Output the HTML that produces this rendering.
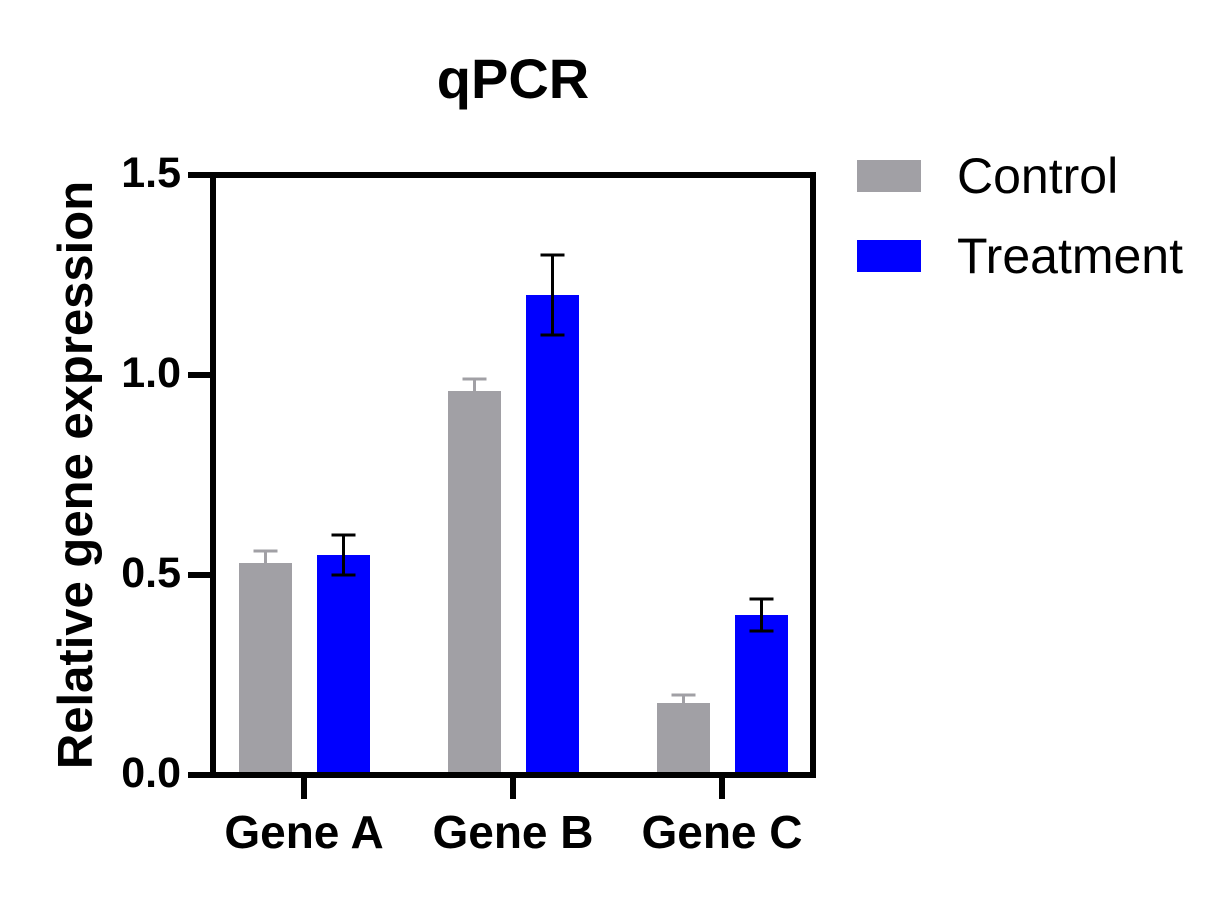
<!DOCTYPE html>
<html><head><style>body{margin:0;background:#fff}</style></head><body>
<svg width="1227" height="896" xmlns="http://www.w3.org/2000/svg" font-family="Liberation Sans, Arial, sans-serif">
<text x="513" y="98" font-size="56" font-weight="bold" text-anchor="middle">qPCR</text>
<text transform="translate(92,475) rotate(-90)" font-size="49" font-weight="bold" text-anchor="middle">Relative gene expression</text>
<g fill="#a1a0a5">
<rect x="239" y="563" width="53" height="212"/>
<rect x="448" y="391" width="53" height="384"/>
<rect x="657" y="703" width="53" height="72"/>
</g>
<g fill="#0000ff">
<rect x="317" y="555" width="53" height="220"/>
<rect x="526" y="295" width="53" height="480"/>
<rect x="735" y="615" width="53" height="160"/>
</g>
<g stroke="#a1a0a5" stroke-width="3">
<path d="M265.5 563V551M253.5 551H277.5M474.5 391V379M462.5 379H486.5M683.5 703V695M671.5 695H695.5"/>
</g>
<g stroke="#000" stroke-width="3">
<path d="M343.5 535V575M331.5 535H355.5M331.5 575H355.5M552.5 255V335M540.5 255H564.5M540.5 335H564.5M761.5 599V631M749.5 599H773.5M749.5 631H773.5"/>
</g>
<g stroke="#000" stroke-width="6" fill="none">
<path d="M188 175H813V775M213 175V775M188 775H816M188 375H213M188 575H213M304 775V799M513 775V799M722 775V799"/>
</g>
<g font-size="43" font-weight="bold" text-anchor="end">
<text x="181" y="187">1.5</text><text x="181" y="387">1.0</text><text x="181" y="587">0.5</text><text x="181" y="787">0.0</text>
</g>
<g font-size="46" font-weight="bold" text-anchor="middle">
<text x="304" y="848">Gene A</text><text x="513" y="848">Gene B</text><text x="722" y="848">Gene C</text>
</g>
<rect x="857" y="160" width="64" height="32" fill="#a1a0a5"/>
<rect x="857" y="240" width="64" height="32" fill="#0000ff"/>
<text x="957" y="193" font-size="50">Control</text>
<text x="957" y="273" font-size="50">Treatment</text>
</svg>
</body></html>
